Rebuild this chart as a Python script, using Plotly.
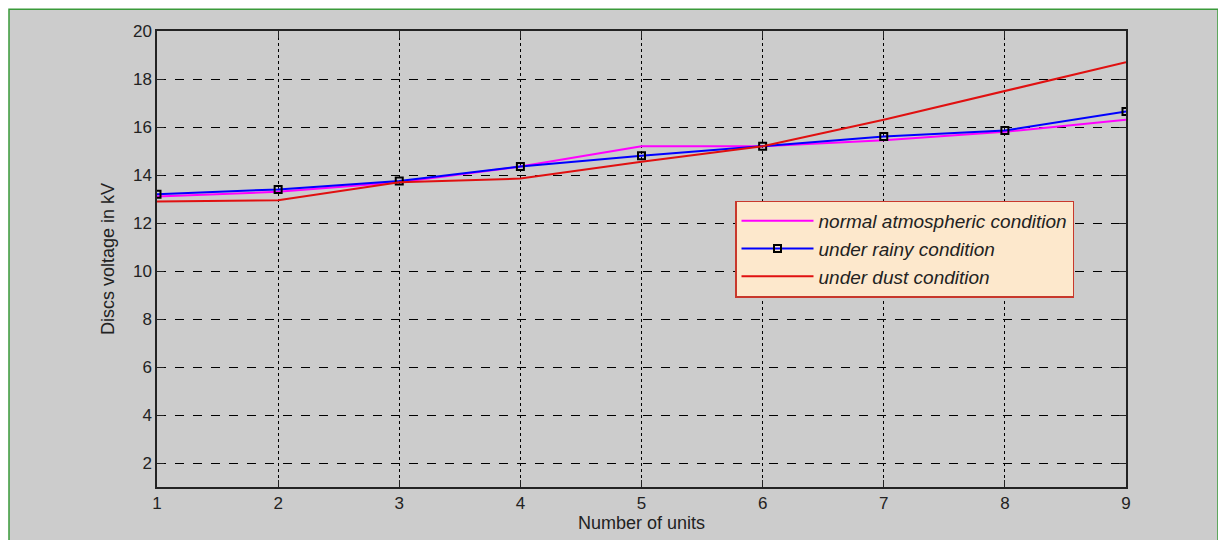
import plotly.graph_objects as go

units = [1, 2, 3, 4, 5, 6, 7, 8, 9]
normal = [13.1, 13.3, 13.7, 14.35, 15.2, 15.2, 15.45, 15.8, 16.3]
rainy = [13.2, 13.4, 13.75, 14.35, 14.8, 15.2, 15.6, 15.85, 16.65]
dust = [12.9, 12.95, 13.7, 13.85, 14.55, 15.2, 16.3, 17.5, 18.7]
y_ticks = [2, 4, 6, 8, 10, 12, 14, 16, 18, 20]

# page body offset (browser default margin)
OX, OY = 8, 8
W, H = 1226 - OX, 540 - OY
# target pixel positions in the window
L_, R_, T_, B_ = 157, 1126, 31, 491
ML, MR, MT, MB = L_ - OX, (W + OX) - R_, T_ - OY, (H + OY) - B_
pw, ph = W - ML - MR, H - MT - MB

def px(x):
    return (x - L_) / pw

def py(y):
    return (B_ - y) / ph

fig = go.Figure()
fig.add_trace(go.Scatter(x=units, y=normal, mode="lines", name="normal atmospheric condition",
                         line=dict(color="#ff00ff", width=2)))
fig.add_trace(go.Scatter(x=units, y=rainy, mode="lines+markers", name="under rainy condition",
                         line=dict(color="#0000ff", width=2),
                         marker=dict(symbol="square-open", size=7, color="black", line=dict(width=2, color="black"))))
fig.add_trace(go.Scatter(x=units, y=dust, mode="lines", name="under dust condition",
                         line=dict(color="#e01010", width=2)))

font = "Liberation Sans, Arial, sans-serif"
fig.update_layout(
    width=W, height=H,
    margin=dict(l=ML, r=MR, t=MT, b=MB),
    paper_bgcolor="white",
    plot_bgcolor="white",
    font=dict(family=font, size=17, color="#222222"),
    showlegend=True,
    legend=dict(x=px(735), y=py(202), xanchor="left", yanchor="top",
                bgcolor="#fde8cc", bordercolor="#c8382c", borderwidth=1.5,
                font=dict(family=font, size=19, style="italic", color="#222222"),
                tracegroupgap=0, itemwidth=72),
    shapes=[dict(type="rect", xref="paper", yref="paper",
                 x0=px(9), x1=px(1218), y0=py(580), y1=py(9),
                 fillcolor="#cccccc", line=dict(color="#3a9a3a", width=1.5), layer="below")],
    xaxis=dict(range=[1, 9], tickvals=units, showgrid=True, gridcolor="black", griddash="dot",
               gridwidth=1, showline=True, linecolor="#222222", linewidth=1.5, mirror="ticks",
               ticks="inside", ticklen=7, tickcolor="#222222", zeroline=False,
               title=dict(text="Number of units", font=dict(size=18), standoff=2),
               tickfont=dict(size=17)),
    yaxis=dict(range=[1, 20], tickvals=y_ticks, showgrid=True, gridcolor="black", griddash="dash",
               gridwidth=1, showline=True, linecolor="#222222", linewidth=1.5, mirror="ticks",
               ticks="inside", ticklen=7, tickcolor="#222222", zeroline=False,
               title=dict(text="Discs voltage in kV", font=dict(size=18), standoff=14),
               tickfont=dict(size=17)),
)
fig.write_html("out.html")
